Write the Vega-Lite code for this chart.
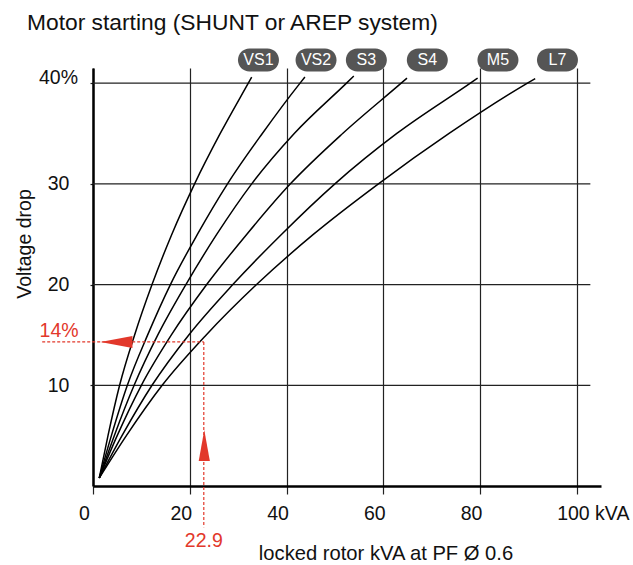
{
  "$schema": "https://vega.github.io/schema/vega-lite/v6.json",
  "width": 508,
  "height": 418,
  "autosize": {"type": "none"},
  "padding": {"left": 93, "top": 68, "right": 32, "bottom": 79},
  "config": {"view": {"stroke": null}, "font": "Liberation Sans"},
  "title": {
    "text": "Motor starting (SHUNT or AREP system)",
    "anchor": "start",
    "frame": "group",
    "fontSize": 22.8,
    "fontWeight": "normal",
    "font": "Liberation Sans",
    "color": "#111",
    "dx": -66,
    "dy": -4,
    "offset": 10
  },
  "datasets": {
    "curves": [
      {"motor": "VS1", "kva": 1.3, "drop": 0.8}, {"motor": "VS1", "kva": 3.1, "drop": 5}, {"motor": "VS1", "kva": 5.5, "drop": 10}, {"motor": "VS1", "kva": 8.6, "drop": 15}, {"motor": "VS1", "kva": 12.2, "drop": 20}, {"motor": "VS1", "kva": 16.3, "drop": 25}, {"motor": "VS1", "kva": 21.0, "drop": 30}, {"motor": "VS1", "kva": 26.3, "drop": 35}, {"motor": "VS1", "kva": 32.1, "drop": 40}, {"motor": "VS1", "kva": 32.8, "drop": 40.6},
      {"motor": "VS2", "kva": 1.3, "drop": 0.8}, {"motor": "VS2", "kva": 3.8, "drop": 5}, {"motor": "VS2", "kva": 7.1, "drop": 10}, {"motor": "VS2", "kva": 11.3, "drop": 15}, {"motor": "VS2", "kva": 16.0, "drop": 20}, {"motor": "VS2", "kva": 21.6, "drop": 25}, {"motor": "VS2", "kva": 27.8, "drop": 30}, {"motor": "VS2", "kva": 35.0, "drop": 35}, {"motor": "VS2", "kva": 42.8, "drop": 40}, {"motor": "VS2", "kva": 43.8, "drop": 40.6},
      {"motor": "S3", "kva": 1.3, "drop": 0.8}, {"motor": "S3", "kva": 4.4, "drop": 5}, {"motor": "S3", "kva": 8.5, "drop": 10}, {"motor": "S3", "kva": 13.4, "drop": 15}, {"motor": "S3", "kva": 19.2, "drop": 20}, {"motor": "S3", "kva": 25.6, "drop": 25}, {"motor": "S3", "kva": 32.8, "drop": 30}, {"motor": "S3", "kva": 41.6, "drop": 35}, {"motor": "S3", "kva": 52.4, "drop": 40}, {"motor": "S3", "kva": 53.9, "drop": 40.7},
      {"motor": "S4", "kva": 1.3, "drop": 0.8}, {"motor": "S4", "kva": 5.0, "drop": 5}, {"motor": "S4", "kva": 10.0, "drop": 10}, {"motor": "S4", "kva": 16.2, "drop": 15}, {"motor": "S4", "kva": 23.5, "drop": 20}, {"motor": "S4", "kva": 31.8, "drop": 25}, {"motor": "S4", "kva": 40.8, "drop": 30}, {"motor": "S4", "kva": 51.6, "drop": 35}, {"motor": "S4", "kva": 63.7, "drop": 40}, {"motor": "S4", "kva": 64.9, "drop": 40.5},
      {"motor": "M5", "kva": 1.3, "drop": 0.8}, {"motor": "M5", "kva": 6.0, "drop": 5}, {"motor": "M5", "kva": 12.2, "drop": 10}, {"motor": "M5", "kva": 19.8, "drop": 15}, {"motor": "M5", "kva": 28.9, "drop": 20}, {"motor": "M5", "kva": 39.0, "drop": 25}, {"motor": "M5", "kva": 50.0, "drop": 30}, {"motor": "M5", "kva": 62.8, "drop": 35}, {"motor": "M5", "kva": 78.0, "drop": 40}, {"motor": "M5", "kva": 79.5, "drop": 40.5},
      {"motor": "L7", "kva": 1.3, "drop": 0.8}, {"motor": "L7", "kva": 6.9, "drop": 5}, {"motor": "L7", "kva": 14.3, "drop": 10}, {"motor": "L7", "kva": 23.4, "drop": 15}, {"motor": "L7", "kva": 33.8, "drop": 20}, {"motor": "L7", "kva": 45.6, "drop": 25}, {"motor": "L7", "kva": 59.0, "drop": 30}, {"motor": "L7", "kva": 73.6, "drop": 35}, {"motor": "L7", "kva": 89.8, "drop": 40}, {"motor": "L7", "kva": 91.4, "drop": 40.45}
    ],
    "badges": [
      {"motor": "VS1", "kva": 34.2, "drop": 42.3},
      {"motor": "VS2", "kva": 46.1, "drop": 42.3},
      {"motor": "S3", "kva": 56.5, "drop": 42.3},
      {"motor": "S4", "kva": 69.1, "drop": 42.3},
      {"motor": "M5", "kva": 83.7, "drop": 42.3},
      {"motor": "L7", "kva": 96.0, "drop": 42.3}
    ],
    "refLines": [
      {"kva": -10.5, "kva2": 22.9, "drop": 14.3, "drop2": 14.3},
      {"kva": 22.9, "kva2": 22.9, "drop": 14.3, "drop2": -4.1}
    ],
    "refLabels": [
      {"label": "14%", "kva": -7.0, "drop": 15.4},
      {"label": "22.9", "kva": 22.9, "drop": -5.5}
    ],
    "gridY": [
      {"drop": 10, "kva": 0, "kva2": 102.8},
      {"drop": 20, "kva": 0, "kva2": 102.8},
      {"drop": 30, "kva": 0, "kva2": 102.8},
      {"drop": 40, "kva": 0, "kva2": 102.8}
    ]
  },
  "encoding": {
    "x": {
      "field": "kva",
      "type": "quantitative",
      "scale": {"domain": [0, 105], "nice": false, "zero": false},
      "axis": {
        "values": [0, 20, 40, 60, 80, 100],
        "grid": true,
        "gridColor": "#222",
        "gridWidth": 1.2,
        "domainColor": "#000",
        "domainWidth": 2.5,
        "tickColor": "#222",
        "tickSize": 8,
        "tickWidth": 1.2,
        "labelFont": "Liberation Sans",
        "labelFontSize": 19.5,
        "labelColor": "#111",
        "labelBaseline": "middle",
        "labelPadding": 19,
        "labelFlush": false,
        "labelOverlap": false,
        "labelBound": false,
        "labelExpr": "datum.value == 100 ? '100 kVA' : datum.label",
        "labelOffset": {"condition": {"test": "datum.value == 100", "value": 16}, "value": -9},
        "title": "locked rotor kVA at PF Ø 0.6",
        "titleFont": "Liberation Sans",
        "titleFontSize": 20.2,
        "titleFontWeight": "normal",
        "titleColor": "#111",
        "titleX": 292.5,
        "titleY": 67,
        "titleAlign": "center",
        "titleBaseline": "middle"
      }
    },
    "y": {
      "field": "drop",
      "type": "quantitative",
      "scale": {"domain": [0, 41.5], "nice": false, "zero": false},
      "axis": {
        "values": [10, 20, 30, 40],
        "grid": false,
        "domainColor": "#000",
        "domainWidth": 2.5,
        "tickColor": "#222",
        "tickSize": 3,
        "tickWidth": 1.2,
        "labelFont": "Liberation Sans",
        "labelFontSize": 19.5,
        "labelColor": "#111",
        "labelAlign": "center",
        "labelBaseline": "middle",
        "labelPadding": 32,
        "labelBound": false,
        "labelExpr": "datum.value == 40 ? '40%' : datum.label",
        "labelOffset": {"condition": {"test": "datum.value == 40", "value": -6}, "value": 0},
        "title": "Voltage drop",
        "titleFont": "Liberation Sans",
        "titleFontSize": 19.5,
        "titleFontWeight": "normal",
        "titleColor": "#111",
        "titleX": -69,
        "titleY": 175.5,
        "titleAngle": -90,
        "titleAlign": "center",
        "titleBaseline": "middle"
      }
    }
  },
  "layer": [
    {
      "data": {"name": "gridY"},
      "mark": {"type": "rule", "color": "#222", "strokeWidth": 1.2},
      "encoding": {"x2": {"field": "kva2"}}
    },
    {
      "data": {"name": "curves"},
      "mark": {"type": "line", "color": "#000", "strokeWidth": 1.5, "interpolate": "monotone"},
      "encoding": {"detail": {"field": "motor"}}
    },
    {
      "data": {"name": "refLines"},
      "mark": {"type": "rule", "color": "#e2382b", "strokeWidth": 1.2, "strokeDash": [3, 2]},
      "encoding": {"x2": {"field": "kva2"}, "y2": {"field": "drop2"}}
    },
    {
      "data": {"values": [{"kva": 4.84, "drop": 14.3}]},
      "mark": {"type": "point", "shape": "M-1,0L1,-0.37L1,0.37Z", "size": 1024, "filled": true, "color": "#e2382b", "opacity": 1, "strokeWidth": 0}
    },
    {
      "data": {"values": [{"kva": 23.0, "drop": 4.03}]},
      "mark": {"type": "point", "shape": "M0,-1L0.36,1L-0.36,1Z", "size": 961, "filled": true, "color": "#e2382b", "opacity": 1, "strokeWidth": 0}
    },
    {
      "data": {"name": "refLabels"},
      "mark": {"type": "text", "color": "#e2382b", "fontSize": 19.5, "font": "Liberation Sans", "align": "center", "baseline": "middle"},
      "encoding": {"text": {"field": "label"}}
    },
    {
      "data": {"name": "badges"},
      "mark": {"type": "rect", "width": 41, "height": 23, "cornerRadius": 11.5, "color": "#555"}
    },
    {
      "data": {"name": "badges"},
      "mark": {"type": "text", "color": "#fff", "fontSize": 16, "font": "Liberation Sans", "align": "center", "baseline": "middle"},
      "encoding": {"text": {"field": "motor"}}
    }
  ]
}
